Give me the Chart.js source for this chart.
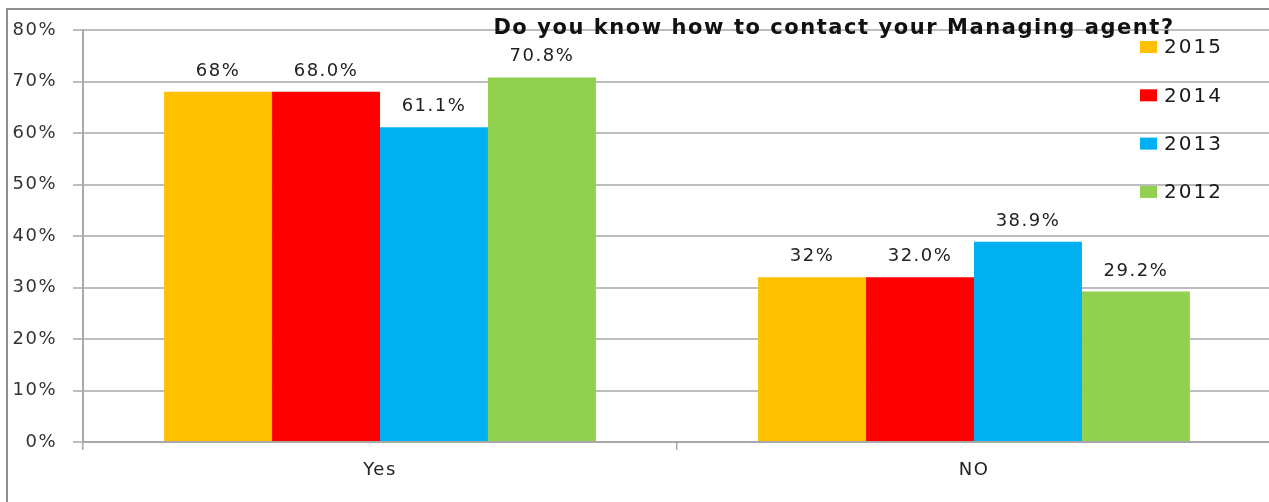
<!DOCTYPE html>
<html>
<head>
<meta charset="utf-8">
<script src="https://cdn.jsdelivr.net/npm/chart.js@4.4.1/dist/chart.umd.min.js"></script>
<style>
    html, body { margin: 0; padding: 0; background: #fff; overflow: hidden; }
    #wrap { position: relative; width: 1275px; height: 502px; }
    #frame {
        position: absolute; left: 6px; top: 8px; right: -10px; bottom: -10px;
        border-top: 2px solid #8f8f8f; border-left: 2px solid #8f8f8f;
        pointer-events: none;
    }
</style>
</head>
<body>
<div id="wrap">
    <canvas id="barChart" width="1275" height="502"></canvas>
    <div id="frame"></div>
</div>
<script>
    // Datos de la encuesta
    const categorias = ['Yes', 'NO'];
    const anios = ['2015', '2014', '2013', '2012'];
    const valores2015 = [68, 32];
    const valores2014 = [68.0, 32.0];
    const valores2013 = [61.1, 38.9];
    const valores2012 = [70.8, 29.2];
    const decimales = [0, 1, 1, 1]; // decimales de la etiqueta por serie
    const colores = ['#FFC000', '#FF0000', '#00B0F0', '#92D050'];
    const titulo = 'Do you know how to contact your Managing agent?';

    const fuente = "'DejaVu Sans', sans-serif";

    // Texto algo más espaciado en todo el gráfico
    const espaciadoPlugin = {
        id: 'espaciado',
        beforeDraw(chart) {
            chart.ctx.letterSpacing = '1.5px';
        }
    };

    // Etiquetas de valor, título y leyenda dibujados sobre el área del gráfico
    const textosPlugin = {
        id: 'textos',
        afterDatasetsDraw(chart) {
            const ctx = chart.ctx;
            ctx.save();
            ctx.letterSpacing = '1.5px';
            ctx.fillStyle = '#222';
            ctx.textAlign = 'center';
            ctx.textBaseline = 'alphabetic';
            ctx.font = '18px ' + fuente;
            chart.data.datasets.forEach((ds, i) => {
                const meta = chart.getDatasetMeta(i);
                meta.data.forEach((bar, j) => {
                    const txt = ds.data[j].toFixed(decimales[i]) + '%';
                    ctx.fillText(txt, bar.x, bar.y - 16);
                });
            });

            // título
            ctx.fillStyle = '#111';
            ctx.font = 'bold 21px ' + fuente;
            ctx.letterSpacing = '1.55px';
            ctx.textBaseline = 'middle';
            ctx.fillText(titulo, 834, 29);

            // leyenda
            ctx.font = '20px ' + fuente;
            ctx.letterSpacing = '2px';
            ctx.textAlign = 'left';
            chart.data.datasets.forEach((ds, i) => {
                const y = 47 + i * 48.3;
                ctx.fillStyle = ds.backgroundColor;
                ctx.fillRect(1140, y - 6, 17, 12);
                ctx.fillStyle = '#1a1a1a';
                ctx.fillText(ds.label, 1164, y + 1);
            });
            ctx.restore();
        }
    };

    const series = [valores2015, valores2014, valores2013, valores2012];

    new Chart(document.getElementById('barChart'), {
        type: 'bar',
        data: {
            labels: categorias,
            datasets: series.map((vals, i) => ({
                label: anios[i],
                data: vals,
                backgroundColor: colores[i],
                borderWidth: 0,
                barPercentage: 1,
                categoryPercentage: 0.727
            }))
        },
        options: {
            responsive: false,
            animation: false,
            layout: { padding: { top: 30, right: 4, left: 0, bottom: 0 } },
            plugins: {
                legend: { display: false },
                title: { display: false },
                tooltip: { enabled: false }
            },
            scales: {
                x: {
                    afterFit: (scale) => { scale.height = 60; },
                    grid: {
                        display: true,
                        drawOnChartArea: false,
                        drawTicks: true,
                        tickLength: 8,
                        color: '#a8a8a8',
                        lineWidth: 1.5
                    },
                    border: { color: '#a8a8a8', width: 2 },
                    ticks: {
                        color: '#222',
                        font: { family: fuente, size: 18 },
                        padding: 10
                    }
                },
                y: {
                    min: 0,
                    max: 80,
                    afterFit: (scale) => { scale.width = 83; },
                    ticks: {
                        stepSize: 10,
                        color: '#333',
                        padding: 16,
                        font: { family: fuente, size: 18 },
                        callback: (v) => v + '%'
                    },
                    grid: {
                        color: '#bdbdbd',
                        lineWidth: 2,
                        tickLength: 10
                    },
                    border: { color: '#a8a8a8', width: 2 }
                }
            }
        },
        plugins: [espaciadoPlugin, textosPlugin]
    });
</script>
</body>
</html>
